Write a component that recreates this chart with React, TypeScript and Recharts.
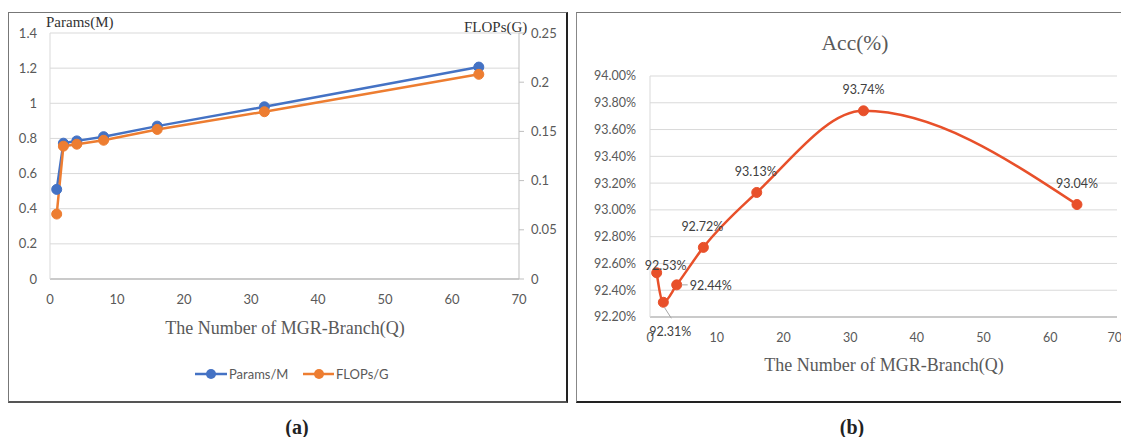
import React from 'react'
import { LineChart, Line, XAxis, YAxis, CartesianGrid } from 'recharts'

// shared x positions (number of MGR branches)
const branches = [1, 2, 4, 8, 16, 32, 64]

// panel (a)
const paramsM = [0.51, 0.773, 0.786, 0.81, 0.87, 0.98, 1.206]
const flopsG = [0.066, 0.135, 0.137, 0.141, 0.152, 0.17, 0.208]
const paramTicks = [0, 0.2, 0.4, 0.6, 0.8, 1, 1.2, 1.4]
const flopTicks = [0, 0.05, 0.1, 0.15, 0.2, 0.25]

// panel (b)
const accuracy = [92.53, 92.31, 92.44, 92.72, 93.13, 93.74, 93.04]
const accTicks = [92.2, 92.4, 92.6, 92.8, 93.0, 93.2, 93.4, 93.6, 93.8, 94.0]

const xTicks = [0, 10, 20, 30, 40, 50, 60, 70]

// label placement for panel (b), relative to each point
const accLabelOffsets = [
  { dx: 9, dy: -7 },
  { dx: 7, dy: 29 },
  { dx: 34, dy: 1 },
  { dx: -1, dy: -21 },
  { dx: -1, dy: -21 },
  { dx: 0, dy: -21.5 },
  { dx: 0, dy: -21 },
]

const dataA = branches.map((q, i) => ({ q, params: paramsM[i], flops: flopsG[i] }))
const dataB = branches.map((q, i) => ({ q, acc: accuracy[i] }))

const GRAY_TEXT = '#595959'
const SANS = 'Lato, "Open Sans", sans-serif'
const SERIF = '"Liberation Serif", "Times New Roman", serif'
const BLUE = '#4472C4'
const ORANGE = '#ED7D31'
const RED = '#E8502A'

const AccLabel = (props: any) => {
  const { x, y, value, index } = props
  if (x == null || y == null) return null
  const off = accLabelOffsets[index] || { dx: 0, dy: -20 }
  return (
    <g>
      {index === 1 && (
        <line x1={x + 1} y1={y + 5} x2={x + 8} y2={y + 16} stroke="#A6A6A6" strokeWidth={1} />
      )}
      {index === 2 && (
        <line x1={x + 5} y1={y} x2={x + 11} y2={y} stroke="#A6A6A6" strokeWidth={1} />
      )}
      <text
        x={x + off.dx}
        y={y + off.dy}
        textAnchor="middle"
        dominantBaseline="central"
        fontFamily={SANS}
        fontSize={12.5}
        fill="#404040"
      >
        {`${Number(value).toFixed(2)}%`}
      </text>
    </g>
  )
}

export default function App() {
  return (
    <div
      style={{
        position: 'absolute',
        left: 0,
        top: 0,
        width: 1121,
        height: 437,
        background: '#fff',
        overflow: 'hidden',
        fontFamily: SERIF,
      }}
    >
      {/* panel frames */}
      <div
        style={{
          position: 'absolute',
          left: 8,
          top: 12,
          width: 557,
          height: 388,
          borderTop: '1px solid #777',
          borderLeft: '1px solid #777',
          borderRight: '2px solid #222',
          borderBottom: '2px solid #555',
        }}
      />
      <div
        style={{
          position: 'absolute',
          left: 576,
          top: 12,
          width: 560,
          height: 388,
          borderTop: '1px solid #777',
          borderLeft: '1.5px solid #888',
          borderBottom: '2px solid #222',
        }}
      />

      {/* panel (a) */}
      <div style={{ position: 'absolute', left: 0, top: 0 }}>
        <LineChart
          width={570}
          height={400}
          data={dataA}
          margin={{ top: 33, right: 1, left: 10, bottom: 91 }}
        >
          <CartesianGrid yAxisId="left" vertical={false} stroke="#D9D9D9" />
          <XAxis
            dataKey="q"
            type="number"
            domain={[0, 70]}
            ticks={xTicks}
            height={30}
            axisLine={{ stroke: '#BFBFBF', strokeWidth: 1.5 }}
            tickLine={false}
            tickMargin={10}
            tick={{ fill: GRAY_TEXT, fontSize: 13, fontFamily: SANS }}
          />
          <YAxis
            yAxisId="left"
            domain={[0, 1.4]}
            ticks={paramTicks}
            width={40}
            axisLine={{ stroke: '#D9D9D9' }}
            tickLine={false}
            tickMargin={7}
            tickFormatter={(v) => String(v)}
            tick={{ fill: GRAY_TEXT, fontSize: 13, fontFamily: SANS }}
          />
          <YAxis
            yAxisId="right"
            orientation="right"
            domain={[0, 0.25]}
            ticks={flopTicks}
            width={50}
            axisLine={{ stroke: '#BFBFBF' }}
            tickLine={{ stroke: '#BFBFBF' }}
            tickSize={5}
            tickMargin={7}
            tickFormatter={(v) => String(v)}
            tick={{ fill: GRAY_TEXT, fontSize: 13, fontFamily: SANS }}
          />
          <Line
            yAxisId="left"
            dataKey="params"
            type="linear"
            stroke={BLUE}
            strokeWidth={2.5}
            dot={{ r: 5, fill: BLUE, stroke: BLUE, strokeWidth: 1 }}
            isAnimationActive={false}
          />
          <Line
            yAxisId="right"
            dataKey="flops"
            type="linear"
            stroke={ORANGE}
            strokeWidth={2.5}
            dot={{ r: 5, fill: ORANGE, stroke: ORANGE, strokeWidth: 1 }}
            isAnimationActive={false}
          />
        </LineChart>
      </div>

      <div style={{ position: 'absolute', left: 46, top: 12, fontSize: 15, color: '#333', lineHeight: '20px' }}>
        Params(M)
      </div>
      <div style={{ position: 'absolute', left: 464, top: 17, fontSize: 15, color: '#333', lineHeight: '20px' }}>
        FLOPs(G)
      </div>
      <div
        style={{
          position: 'absolute',
          left: 85,
          width: 400,
          top: 317,
          textAlign: 'center',
          fontSize: 18,
          color: GRAY_TEXT,
          lineHeight: '22px',
        }}
      >
        The Number of MGR-Branch(Q)
      </div>

      {/* legend (a) */}
      <svg style={{ position: 'absolute', left: 190, top: 364 }} width={210} height={20}>
        <line x1={5} y1={10} x2={37} y2={10} stroke={BLUE} strokeWidth={2.5} />
        <circle cx={21} cy={10} r={5} fill={BLUE} />
        <text x={39} y={10} dominantBaseline="central" fontFamily={SANS} fontSize={13} fill={GRAY_TEXT}>
          Params/M
        </text>
        <line x1={113} y1={10} x2={144} y2={10} stroke={ORANGE} strokeWidth={2.5} />
        <circle cx={129} cy={10} r={5} fill={ORANGE} />
        <text x={146} y={10} dominantBaseline="central" fontFamily={SANS} fontSize={13} fill={GRAY_TEXT}>
          FLOPs/G
        </text>
      </svg>

      {/* panel (b) */}
      <div style={{ position: 'absolute', left: 576, top: 0 }}>
        <LineChart
          width={545}
          height={400}
          data={dataB}
          margin={{ top: 76, right: 4, left: 0, bottom: 53 }}
        >
          <CartesianGrid vertical={false} stroke="#D9D9D9" />
          <XAxis
            dataKey="q"
            type="number"
            domain={[0, 70]}
            ticks={xTicks}
            height={30}
            axisLine={{ stroke: '#BFBFBF', strokeWidth: 1.5 }}
            tickLine={false}
            tickMargin={10}
            tick={{ fill: GRAY_TEXT, fontSize: 12.5, fontFamily: SANS }}
          />
          <YAxis
            domain={[92.2, 94.0]}
            ticks={accTicks}
            width={74}
            axisLine={{ stroke: '#D9D9D9' }}
            tickLine={false}
            tickMargin={8}
            tickFormatter={(v) => `${Number(v).toFixed(2)}%`}
            tick={{ fill: GRAY_TEXT, fontSize: 12.5, fontFamily: SANS }}
          />
          <Line
            dataKey="acc"
            type="monotoneX"
            stroke={RED}
            strokeWidth={2.5}
            dot={{ r: 5, fill: RED, stroke: RED, strokeWidth: 1 }}
            label={(p: any) => <AccLabel {...p} />}
            isAnimationActive={false}
          />
        </LineChart>
      </div>

      <div
        style={{
          position: 'absolute',
          left: 755,
          width: 200,
          top: 30,
          textAlign: 'center',
          fontSize: 21.5,
          color: GRAY_TEXT,
          lineHeight: '26px',
        }}
      >
        Acc(%)
      </div>
      <div
        style={{
          position: 'absolute',
          left: 684,
          width: 400,
          top: 354,
          textAlign: 'center',
          fontSize: 18,
          color: GRAY_TEXT,
          lineHeight: '22px',
        }}
      >
        The Number of MGR-Branch(Q)
      </div>

      {/* sub captions */}
      <div style={{ position: 'absolute', left: 247, width: 100, top: 415, textAlign: 'center', fontSize: 20, fontWeight: 'bold', color: '#222', lineHeight: '24px' }}>
        (a)
      </div>
      <div style={{ position: 'absolute', left: 802, width: 100, top: 415, textAlign: 'center', fontSize: 20, fontWeight: 'bold', color: '#222', lineHeight: '24px' }}>
        (b)
      </div>
    </div>
  )
}
